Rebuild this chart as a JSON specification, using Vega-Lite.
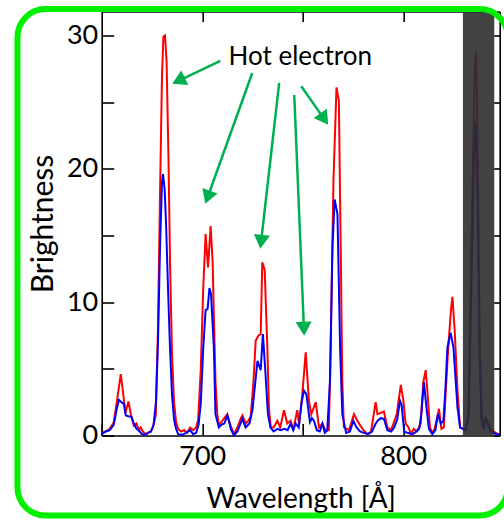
{
  "$schema": "https://vega.github.io/schema/vega-lite/v6.json",
  "padding": {"left": 13.7, "top": 5.5, "right": 0, "bottom": 2},
  "background": "white",
  "config": {
    "view": {"stroke": null},
    "font": "Lato",
    "axis": {"labelFont": "Lato", "titleFont": "Lato", "labelColor": "black", "titleColor": "black", "domainColor": "black", "domainWidth": 1.6, "tickColor": "black", "tickWidth": 1.6, "grid": false, "titleFontWeight": "normal", "labelFontSize": 27, "titleFontSize": 28}
  },
  "datasets": {
    "spectra": [
      {"w":650,"b":0.2,"s":"red"},{"w":652,"b":0.3,"s":"red"},{"w":654,"b":0.5,"s":"red"},{"w":656,"b":1.0,"s":"red"},{"w":657.5,"b":2.5,"s":"red"},{"w":659.5,"b":4.6,"s":"red"},{"w":660.8,"b":3.0,"s":"red"},{"w":661.8,"b":1.7,"s":"red"},{"w":663.3,"b":2.55,"s":"red"},{"w":664.5,"b":1.6,"s":"red"},{"w":666,"b":0.75,"s":"red"},{"w":667.3,"b":0.9,"s":"red"},{"w":668.5,"b":0.4,"s":"red"},{"w":669.4,"b":0.6,"s":"red"},{"w":670.5,"b":0.3,"s":"red"},{"w":672,"b":0.1,"s":"red"},{"w":674.4,"b":0.3,"s":"red"},{"w":675.5,"b":0.6,"s":"red"},{"w":676.9,"b":1.5,"s":"red"},{"w":678,"b":8,"s":"red"},{"w":679,"b":18,"s":"red"},{"w":680,"b":27,"s":"red"},{"w":680.7,"b":29.9,"s":"red"},{"w":681.5,"b":30.0,"s":"red"},{"w":682.3,"b":28,"s":"red"},{"w":683.2,"b":21,"s":"red"},{"w":684,"b":13,"s":"red"},{"w":685,"b":6,"s":"red"},{"w":686,"b":2.5,"s":"red"},{"w":687,"b":1.0,"s":"red"},{"w":688,"b":0.5,"s":"red"},{"w":689.5,"b":0.3,"s":"red"},{"w":691,"b":0.4,"s":"red"},{"w":692.5,"b":0.2,"s":"red"},{"w":694,"b":0.6,"s":"red"},{"w":695.5,"b":0.4,"s":"red"},{"w":697,"b":0.6,"s":"red"},{"w":698,"b":1.2,"s":"red"},{"w":699.3,"b":5,"s":"red"},{"w":700.5,"b":11,"s":"red"},{"w":701.7,"b":15.1,"s":"red"},{"w":702.9,"b":12.6,"s":"red"},{"w":704.2,"b":15.7,"s":"red"},{"w":705.2,"b":13,"s":"red"},{"w":705.8,"b":9,"s":"red"},{"w":706.6,"b":4.1,"s":"red"},{"w":707.5,"b":1.6,"s":"red"},{"w":708.3,"b":0.8,"s":"red"},{"w":709.5,"b":1.0,"s":"red"},{"w":711,"b":1.3,"s":"red"},{"w":712.5,"b":1.6,"s":"red"},{"w":713.5,"b":1.0,"s":"red"},{"w":714.2,"b":0.7,"s":"red"},{"w":715.8,"b":0.1,"s":"red"},{"w":717.5,"b":0.6,"s":"red"},{"w":719,"b":1.2,"s":"red"},{"w":720,"b":1.5,"s":"red"},{"w":721.6,"b":0.9,"s":"red"},{"w":723,"b":1.1,"s":"red"},{"w":724.1,"b":1.4,"s":"red"},{"w":725.5,"b":4,"s":"red"},{"w":726.6,"b":7.1,"s":"red"},{"w":728,"b":7.5,"s":"red"},{"w":729.1,"b":7.6,"s":"red"},{"w":729.9,"b":13.0,"s":"red"},{"w":731.1,"b":12.4,"s":"red"},{"w":732.4,"b":6.6,"s":"red"},{"w":733.2,"b":2.1,"s":"red"},{"w":734.1,"b":0.6,"s":"red"},{"w":735.5,"b":0.6,"s":"red"},{"w":737.4,"b":1.1,"s":"red"},{"w":738.8,"b":0.6,"s":"red"},{"w":740.7,"b":1.9,"s":"red"},{"w":742.3,"b":0.9,"s":"red"},{"w":744,"b":1.1,"s":"red"},{"w":745.3,"b":0.4,"s":"red"},{"w":747.3,"b":1.9,"s":"red"},{"w":748.2,"b":0.8,"s":"red"},{"w":749.8,"b":3.1,"s":"red"},{"w":751.5,"b":6.24,"s":"red"},{"w":753.1,"b":2.6,"s":"red"},{"w":754.3,"b":1.6,"s":"red"},{"w":756.5,"b":2.5,"s":"red"},{"w":758.1,"b":0.6,"s":"red"},{"w":759.8,"b":0.9,"s":"red"},{"w":761.4,"b":0.37,"s":"red"},{"w":763,"b":0.4,"s":"red"},{"w":763.9,"b":6.6,"s":"red"},{"w":765.3,"b":19.1,"s":"red"},{"w":766.8,"b":26.1,"s":"red"},{"w":768,"b":25.1,"s":"red"},{"w":768.9,"b":14.1,"s":"red"},{"w":769.7,"b":4.1,"s":"red"},{"w":770.5,"b":0.6,"s":"red"},{"w":773,"b":0.4,"s":"red"},{"w":774.3,"b":1.0,"s":"red"},{"w":775.5,"b":1.6,"s":"red"},{"w":777.2,"b":1.1,"s":"red"},{"w":779.7,"b":0.5,"s":"red"},{"w":782.2,"b":0.1,"s":"red"},{"w":784,"b":0.3,"s":"red"},{"w":786.3,"b":2.5,"s":"red"},{"w":787.2,"b":1.6,"s":"red"},{"w":788.8,"b":1.7,"s":"red"},{"w":790.4,"b":1.8,"s":"red"},{"w":792.1,"b":0.6,"s":"red"},{"w":794,"b":0.4,"s":"red"},{"w":796.8,"b":1.6,"s":"red"},{"w":798.8,"b":3.8,"s":"red"},{"w":800.1,"b":2.6,"s":"red"},{"w":801.2,"b":0.9,"s":"red"},{"w":802.7,"b":0.6,"s":"red"},{"w":803.8,"b":0.1,"s":"red"},{"w":805.2,"b":0.5,"s":"red"},{"w":806.8,"b":0.3,"s":"red"},{"w":808.7,"b":0.9,"s":"red"},{"w":810,"b":4.0,"s":"red"},{"w":811.2,"b":4.9,"s":"red"},{"w":812,"b":3.4,"s":"red"},{"w":813.3,"b":0.6,"s":"red"},{"w":814.5,"b":0.2,"s":"red"},{"w":815.7,"b":0.5,"s":"red"},{"w":817.8,"b":2.0,"s":"red"},{"w":819,"b":0.5,"s":"red"},{"w":820.2,"b":0.6,"s":"red"},{"w":821.1,"b":3.1,"s":"red"},{"w":822.4,"b":6.6,"s":"red"},{"w":823.8,"b":9.5,"s":"red"},{"w":824.5,"b":10.4,"s":"red"},{"w":825.6,"b":7.9,"s":"red"},{"w":827,"b":3.4,"s":"red"},{"w":828.3,"b":0.6,"s":"red"},{"w":829.8,"b":0.5,"s":"red"},{"w":831,"b":0.4,"s":"red"},{"w":832.5,"b":1.5,"s":"red"},{"w":834,"b":15,"s":"red"},{"w":835.5,"b":27,"s":"red"},{"w":836.2,"b":28.8,"s":"red"},{"w":837,"b":22,"s":"red"},{"w":838,"b":8,"s":"red"},{"w":839,"b":1.5,"s":"red"},{"w":840,"b":0.6,"s":"red"},{"w":841,"b":1.3,"s":"red"},{"w":842,"b":1.0,"s":"red"},{"w":843.5,"b":0.4,"s":"red"},{"w":845,"b":0.3,"s":"red"},{"w":846.5,"b":0.15,"s":"red"},{"w":848,"b":0.1,"s":"red"},
      {"w":650,"b":0.1,"s":"blue"},{"w":652,"b":0.3,"s":"blue"},{"w":654,"b":0.4,"s":"blue"},{"w":656,"b":0.8,"s":"blue"},{"w":657.5,"b":2.0,"s":"blue"},{"w":658.6,"b":2.67,"s":"blue"},{"w":659.8,"b":2.5,"s":"blue"},{"w":661,"b":2.37,"s":"blue"},{"w":662,"b":1.5,"s":"blue"},{"w":663.3,"b":1.45,"s":"blue"},{"w":664.8,"b":1.4,"s":"blue"},{"w":666,"b":0.9,"s":"blue"},{"w":667.3,"b":0.5,"s":"blue"},{"w":668.5,"b":0.37,"s":"blue"},{"w":670,"b":0.1,"s":"blue"},{"w":671.5,"b":0.05,"s":"blue"},{"w":673,"b":0.2,"s":"blue"},{"w":674.5,"b":0.3,"s":"blue"},{"w":675.8,"b":0.8,"s":"blue"},{"w":677,"b":2.5,"s":"blue"},{"w":678,"b":7,"s":"blue"},{"w":679,"b":14,"s":"blue"},{"w":680,"b":19,"s":"blue"},{"w":680.5,"b":19.6,"s":"blue"},{"w":681.3,"b":18.5,"s":"blue"},{"w":682,"b":16,"s":"blue"},{"w":683,"b":11,"s":"blue"},{"w":684,"b":6.5,"s":"blue"},{"w":685,"b":3.0,"s":"blue"},{"w":686,"b":1.2,"s":"blue"},{"w":687,"b":0.5,"s":"blue"},{"w":688,"b":0.1,"s":"blue"},{"w":690,"b":0.05,"s":"blue"},{"w":692,"b":0.2,"s":"blue"},{"w":694,"b":0.4,"s":"blue"},{"w":695.5,"b":0.1,"s":"blue"},{"w":697,"b":0.2,"s":"blue"},{"w":698.2,"b":0.8,"s":"blue"},{"w":699.3,"b":2.4,"s":"blue"},{"w":700.5,"b":6.5,"s":"blue"},{"w":701.7,"b":9.4,"s":"blue"},{"w":702.7,"b":9.5,"s":"blue"},{"w":703.6,"b":11.06,"s":"blue"},{"w":704.4,"b":10.6,"s":"blue"},{"w":705.8,"b":6.6,"s":"blue"},{"w":706.6,"b":1.6,"s":"blue"},{"w":708.3,"b":0.6,"s":"blue"},{"w":709.5,"b":0.8,"s":"blue"},{"w":711,"b":0.9,"s":"blue"},{"w":712.5,"b":1.5,"s":"blue"},{"w":713.5,"b":1.0,"s":"blue"},{"w":714.2,"b":0.5,"s":"blue"},{"w":715.8,"b":0.0,"s":"blue"},{"w":717.5,"b":0.3,"s":"blue"},{"w":720,"b":1.25,"s":"blue"},{"w":721.6,"b":0.6,"s":"blue"},{"w":723.5,"b":0.9,"s":"blue"},{"w":725,"b":1.9,"s":"blue"},{"w":727.5,"b":5.6,"s":"blue"},{"w":729.1,"b":4.9,"s":"blue"},{"w":730.2,"b":7.6,"s":"blue"},{"w":731.3,"b":5.1,"s":"blue"},{"w":732.7,"b":1.6,"s":"blue"},{"w":734,"b":0.6,"s":"blue"},{"w":735.5,"b":0.3,"s":"blue"},{"w":737.4,"b":0.5,"s":"blue"},{"w":739,"b":0.4,"s":"blue"},{"w":741,"b":0.5,"s":"blue"},{"w":742.5,"b":0.4,"s":"blue"},{"w":744,"b":0.9,"s":"blue"},{"w":745.3,"b":0.4,"s":"blue"},{"w":746.5,"b":0.9,"s":"blue"},{"w":748,"b":0.6,"s":"blue"},{"w":749.5,"b":2.5,"s":"blue"},{"w":750.6,"b":3.37,"s":"blue"},{"w":751.8,"b":3.1,"s":"blue"},{"w":753.6,"b":1.0,"s":"blue"},{"w":754.6,"b":1.3,"s":"blue"},{"w":755.6,"b":1.1,"s":"blue"},{"w":757,"b":0.4,"s":"blue"},{"w":758.5,"b":0.3,"s":"blue"},{"w":759.8,"b":0.9,"s":"blue"},{"w":761,"b":0.2,"s":"blue"},{"w":762.2,"b":0.37,"s":"blue"},{"w":763.6,"b":4.1,"s":"blue"},{"w":764.8,"b":14.1,"s":"blue"},{"w":765.9,"b":17.7,"s":"blue"},{"w":767.3,"b":16.6,"s":"blue"},{"w":768.6,"b":6.6,"s":"blue"},{"w":769.7,"b":1.6,"s":"blue"},{"w":771.6,"b":0.2,"s":"blue"},{"w":773.5,"b":0.3,"s":"blue"},{"w":775.2,"b":1.1,"s":"blue"},{"w":776.8,"b":0.6,"s":"blue"},{"w":778.5,"b":0.3,"s":"blue"},{"w":780.5,"b":0.2,"s":"blue"},{"w":782.5,"b":0.1,"s":"blue"},{"w":784.5,"b":0.3,"s":"blue"},{"w":786,"b":0.8,"s":"blue"},{"w":787.2,"b":1.1,"s":"blue"},{"w":788.8,"b":1.3,"s":"blue"},{"w":790.4,"b":1.25,"s":"blue"},{"w":792.1,"b":0.4,"s":"blue"},{"w":794,"b":0.3,"s":"blue"},{"w":795.5,"b":0.6,"s":"blue"},{"w":797,"b":1.2,"s":"blue"},{"w":798.4,"b":2.6,"s":"blue"},{"w":799.2,"b":2.3,"s":"blue"},{"w":800.5,"b":0.3,"s":"blue"},{"w":802,"b":0.2,"s":"blue"},{"w":804.7,"b":0.1,"s":"blue"},{"w":806.5,"b":0.3,"s":"blue"},{"w":808,"b":0.5,"s":"blue"},{"w":809,"b":1.6,"s":"blue"},{"w":810.3,"b":4.0,"s":"blue"},{"w":811.7,"b":1.9,"s":"blue"},{"w":812.8,"b":0.5,"s":"blue"},{"w":814.5,"b":0.1,"s":"blue"},{"w":816,"b":0.4,"s":"blue"},{"w":817.3,"b":1.6,"s":"blue"},{"w":818.7,"b":0.9,"s":"blue"},{"w":820,"b":1.1,"s":"blue"},{"w":821,"b":3.5,"s":"blue"},{"w":822,"b":6.6,"s":"blue"},{"w":823.6,"b":7.7,"s":"blue"},{"w":825,"b":6.6,"s":"blue"},{"w":827,"b":2.1,"s":"blue"},{"w":828.3,"b":0.6,"s":"blue"},{"w":829.8,"b":0.5,"s":"blue"},{"w":831,"b":0.4,"s":"blue"},{"w":832.5,"b":1.4,"s":"blue"},{"w":834,"b":12,"s":"blue"},{"w":835.3,"b":21,"s":"blue"},{"w":836,"b":23.5,"s":"blue"},{"w":837,"b":18,"s":"blue"},{"w":838,"b":6,"s":"blue"},{"w":839,"b":1.2,"s":"blue"},{"w":840,"b":0.5,"s":"blue"},{"w":841,"b":1.3,"s":"blue"},{"w":842,"b":0.9,"s":"blue"},{"w":843.5,"b":0.3,"s":"blue"},{"w":845,"b":0.2,"s":"blue"},{"w":846.5,"b":0.1,"s":"blue"},{"w":848,"b":0.1,"s":"blue"}
    ],
    "arrows": [
      {"x":709.0,"y":28.09,"hx":688.2,"hy":26.6,"angle":244.4},
      {"x":724.9,"y":27.19,"hx":702.7,"hy":17.87,"angle":199.7},
      {"x":738.3,"y":26.44,"hx":729.3,"hy":14.53,"angle":186.5},
      {"x":745.8,"y":25.54,"hx":750.6,"hy":8.01,"angle":177.6},
      {"x":749.3,"y":26.2,"hx":760.7,"hy":23.73,"angle":145.3}
    ]
  },
  "hconcat": [
    {
      "width": 398,
      "height": 424,
      "layer": [
        {
          "data": {"name": "spectra"},
          "mark": {"type": "line", "strokeWidth": 2},
          "encoding": {
            "x": {"field": "w", "type": "quantitative", "scale": {"domain": [650, 848], "nice": false, "zero": false},
              "axis": {"orient": "bottom", "title": "Wavelength [Å]", "values": [650, 700, 750, 800], "labelExpr": "datum.value % 100 === 0 ? datum.label : ''", "tickSize": -12, "labelPadding": 20, "titlePadding": 16}},
            "y": {"field": "b", "type": "quantitative", "scale": {"domain": [0, 31.8], "nice": false},
              "axis": {"orient": "left", "title": "Brightness", "titleFontSize": 30, "values": [0, 5, 10, 15, 20, 25, 30], "labelExpr": "datum.value % 10 === 0 ? datum.label : ''", "tickSize": -12, "labelPadding": 16, "titlePadding": 8}},
            "color": {"field": "s", "type": "nominal", "scale": {"domain": ["red", "blue"], "range": ["#ff0000", "#0000ff"]}, "legend": null}
          }
        },
        {
          "data": {"values": [{"from": 829.7, "to": 845.3}]},
          "mark": {"type": "rect", "fill": "#2e2e2e", "opacity": 0.9},
          "encoding": {
            "x": {"field": "from", "type": "quantitative", "axis": null},
            "x2": {"field": "to"}
          }
        },
        {
          "data": {"name": "arrows"},
          "mark": {"type": "rule", "stroke": "#00b050", "strokeWidth": 2.5},
          "encoding": {
            "x": {"field": "x", "type": "quantitative", "axis": null},
            "y": {"field": "y", "type": "quantitative", "axis": null},
            "x2": {"field": "hx"},
            "y2": {"field": "hy"}
          }
        },
        {
          "data": {"name": "arrows"},
          "mark": {"type": "point", "shape": "triangle-up", "filled": true, "fill": "#00b050", "opacity": 1, "size": 260, "strokeWidth": 0},
          "encoding": {
            "x": {"field": "hx", "type": "quantitative", "axis": null},
            "y": {"field": "hy", "type": "quantitative", "axis": null},
            "angle": {"field": "angle", "type": "quantitative", "scale": null}
          }
        },
        {
          "data": {"values": [{"label": "Hot electron", "x": 748.8, "y": 28.4}]},
          "mark": {"type": "text", "font": "Lato", "fontSize": 26, "color": "black", "align": "center", "baseline": "middle"},
          "encoding": {
            "text": {"field": "label"},
            "x": {"field": "x", "type": "quantitative",
              "axis": {"orient": "top", "title": null, "values": [700, 750, 800], "labels": false, "tickSize": -10}},
            "y": {"field": "y", "type": "quantitative",
              "axis": {"orient": "right", "title": null, "values": [0, 5, 10, 15, 20, 25, 30], "labels": false, "tickSize": -6}}
          }
        },
        {
          "data": {"values": [{}]},
          "mark": {"type": "rect", "filled": false, "stroke": "#00f000", "strokeWidth": 6, "cornerRadius": 28},
          "encoding": {
            "x": {"datum": 608.1, "type": "quantitative", "axis": null},
            "x2": {"datum": 852},
            "y": {"datum": -6.0, "type": "quantitative", "axis": null},
            "y2": {"datum": 31.98}
          }
        }
      ],
      "resolve": {"axis": {"x": "independent", "y": "independent"}}
    }
  ]
}
